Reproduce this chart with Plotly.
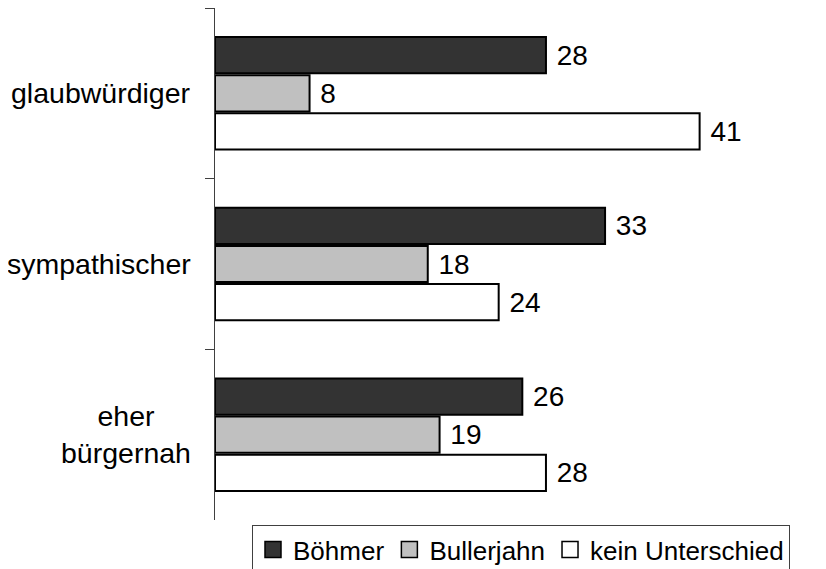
import plotly.graph_objects as go

categories = ["glaubwürdiger", "sympathischer", "eher<br>bürgernah"]
series_names = ["Böhmer", "Bullerjahn", "kein Unterschied"]
boehmer = [28, 33, 26]
bullerjahn = [8, 18, 19]
kein_unterschied = [41, 24, 28]
colors = ["#333333", "#c0c0c0", "#ffffff"]

FONT = "Arial, Liberation Sans, sans-serif"

fig = go.Figure()
for name, vals, col in zip(series_names, [boehmer, bullerjahn, kein_unterschied], colors):
    fig.add_trace(go.Bar(
        y=categories, x=vals, orientation="h", name=name,
        marker=dict(color=col, line=dict(color="black", width=2)),
        text=vals, texttemplate="\u00a0%{x}", textposition="outside",
        textfont=dict(size=28, color="black", family=FONT),
        constraintext="none", cliponaxis=False, showlegend=False,
    ))
    # legend entries with bigger squares
    fig.add_trace(go.Scatter(
        x=[None], y=[None], mode="markers", name=name,
        marker=dict(symbol="square", size=20, color=col, line=dict(color="black", width=1.5)),
        showlegend=True,
    ))

# category labels, centred for the two-line one
for cat in categories:
    fig.add_annotation(
        x=-0.037, xref="paper", y=cat, yref="y", text=cat,
        xanchor="right", align="center", showarrow=False,
        font=dict(size=28.5, color="black", family=FONT),
    )

# page body has an 8px margin, so the figure is sized to the visible area
fig.update_layout(
    width=818, height=561,
    margin=dict(l=207, r=20, t=0, b=49, autoexpand=False),
    paper_bgcolor="white", plot_bgcolor="white",
    font=dict(family=FONT, color="black"),
    barmode="group", bargap=0.33, bargroupgap=0.05,
    legend=dict(
        orientation="h", x=0.0626, xanchor="left", y=-0.01, yanchor="top",
        bordercolor="#404040", borderwidth=1, bgcolor="white",
        font=dict(size=26, family=FONT, color="black"),
        itemsizing="trace", tracegroupgap=0,
    ),
    xaxis=dict(range=[0, 50], visible=False, showgrid=False, zeroline=False),
    yaxis=dict(
        autorange="reversed", showgrid=False, zeroline=False,
        showline=True, linecolor="#404040", linewidth=1,
        ticks="outside", ticklen=9, tickcolor="#404040",
        tickson="boundaries", showticklabels=False,
    ),
)

fig.write_html("out.html")
